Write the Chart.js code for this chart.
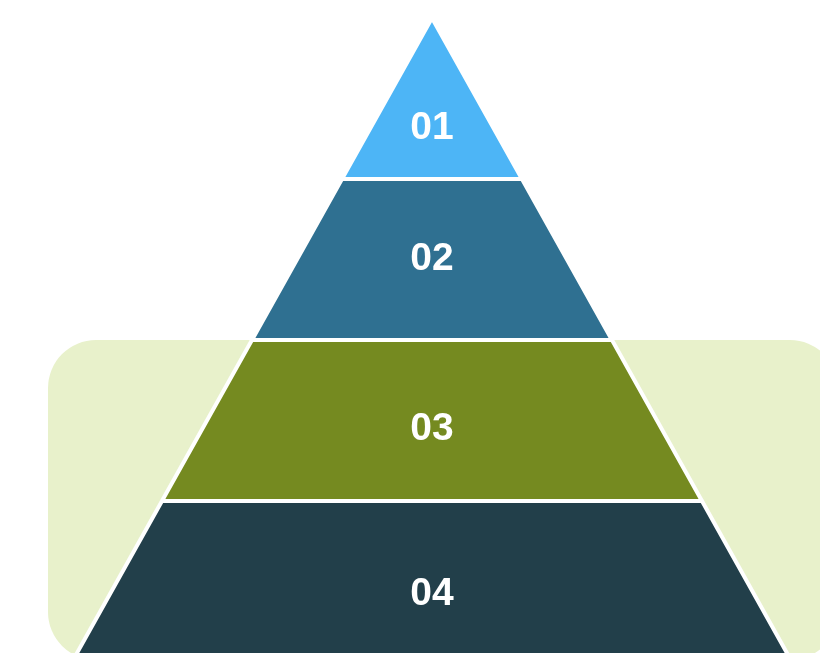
<!DOCTYPE html>
<html>
<head>
<meta charset="utf-8">
<script src="https://cdn.jsdelivr.net/npm/chart.js@4"></script>
<style>
  html, body { margin: 0; padding: 0; background: #fff; }
  canvas { display: block; }
</style>
</head>
<body>
<canvas id="pyramidChart" width="820" height="653"></canvas>
<script>
// pyramid levels, top to bottom
const levelLabels = ['01', '02', '03', '04'];
const levelValues = [1, 1, 1, 1];
const levelColors = ['#4db5f6', '#2f7091', '#758a20', '#223f4a'];

// shape of the pyramid (half width per unit of depth)
const SLOPE = 0.559;
// where each number sits inside its level (fraction of level height)
const labelPos = [0.68, 0.49, 0.55, 0.57];

function buildDatasets() {
  const sets = [];
  let top = 0;
  levelValues.forEach(function (v, i) {
    const bottom = top + v;
    sets.push({
      label: levelLabels[i],
      data: [
        { x: -top * SLOPE, y: top },
        { x: top * SLOPE, y: top },
        { x: bottom * SLOPE, y: bottom },
        { x: -bottom * SLOPE, y: bottom },
        { x: -top * SLOPE, y: top }
      ],
      showLine: true,
      fill: 'shape',
      backgroundColor: levelColors[i],
      borderColor: '#ffffff',
      borderWidth: 4,
      borderJoinStyle: 'bevel',
      pointRadius: 0,
      pointHoverRadius: 0,
      tension: 0
    });
    top = bottom;
  });
  return sets;
}

// pale green panel behind the lower half
const panelPlugin = {
  id: 'panel',
  beforeDatasetsDraw(chart) {
    const ctx = chart.ctx;
    const y = chart.scales.y;
    const top = y.getPixelForValue(levelValues[0] + levelValues[1]);
    const left = 48, right = 838, bottom = 660, r = 48;
    ctx.save();
    ctx.fillStyle = '#e8f1cb';
    ctx.beginPath();
    ctx.moveTo(left + r, top);
    ctx.lineTo(right - r, top);
    ctx.arcTo(right, top, right, top + r, r);
    ctx.lineTo(right, bottom - r);
    ctx.arcTo(right, bottom, right - r, bottom, r);
    ctx.lineTo(left + r, bottom);
    ctx.arcTo(left, bottom, left, bottom - r, r);
    ctx.lineTo(left, top + r);
    ctx.arcTo(left, top, left + r, top, r);
    ctx.closePath();
    ctx.fill();
    ctx.restore();
  }
};

// level numbers
const labelPlugin = {
  id: 'levelLabels',
  afterDatasetsDraw(chart) {
    const ctx = chart.ctx;
    const x = chart.scales.x;
    const y = chart.scales.y;
    ctx.save();
    ctx.fillStyle = '#ffffff';
    ctx.font = 'bold 39px "Liberation Sans", Arial, sans-serif';
    ctx.textAlign = 'center';
    ctx.textBaseline = 'middle';
    let top = 0;
    levelValues.forEach(function (v, i) {
      const py = y.getPixelForValue(top + v * labelPos[i]);
      ctx.fillText(levelLabels[i], x.getPixelForValue(0), py + 1);
      top += v;
    });
    ctx.restore();
  }
};

new Chart(document.getElementById('pyramidChart'), {
  type: 'scatter',
  data: { datasets: buildDatasets() },
  options: {
    responsive: false,
    animation: false,
    layout: { padding: 0 },
    plugins: {
      legend: { display: false },
      tooltip: { enabled: false }
    },
    scales: {
      x: { type: 'linear', display: false, min: -2.683, max: 2.410 },
      y: { type: 'linear', display: false, reverse: true, min: -0.112, max: 3.944 }
    }
  },
  plugins: [panelPlugin, labelPlugin]
});
</script>
</body>
</html>
